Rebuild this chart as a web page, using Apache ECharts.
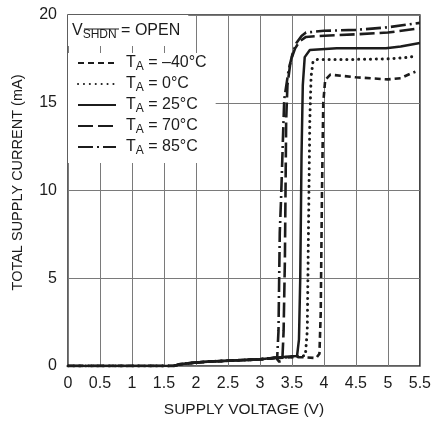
<!DOCTYPE html>
<html>
<head>
<meta charset="utf-8">
<script src="https://cdn.jsdelivr.net/npm/echarts@6/dist/echarts.min.js"></script>
<style>html,body{margin:0;padding:0;background:#fff}#c{width:434px;height:423px}</style>
</head>
<body>
<div id="c"></div>
<script>
// ---- data ----
const xTicks = [0,0.5,1,1.5,2,2.5,3,3.5,4,4.5,5,5.5];
const yTicks = [0,5,10,15,20];
const seriesNames = ['–40°C','0°C','25°C','70°C','85°C'];
const lowSegment = [[0,0],[1.65,0],[1.75,0.1],[2,0.2],[2.2,0.25],[2.5,0.3],[3,0.38],[3.2,0.45]];
const tMinus40 = [[3.5,0.5],[3.7,0.5],[3.88,0.45],[3.93,0.7],[3.95,3],[3.97,10],[3.99,15],[4.02,16.3],[4.1,16.6],[4.5,16.45],[5.0,16.33],[5.2,16.4],[5.38,16.7],[5.43,16.77]];
const t0 = [[3.5,0.52],[3.65,0.55],[3.71,0.6],[3.74,2],[3.76,8],[3.78,14],[3.8,16.5],[3.83,17.35],[3.9,17.47],[4.5,17.47],[5.0,17.5],[5.3,17.58],[5.45,17.66]];
const t25 = [[3.5,0.55],[3.58,0.57],[3.61,1.5],[3.63,5],[3.65,12],[3.67,16],[3.70,17.6],[3.78,18.0],[4.2,18.1],[4.97,18.1],[5.2,18.2],[5.5,18.4]];
const t70 = [[3.25,0.47],[3.3,0.25],[3.35,0.3],[3.37,2],[3.39,6],[3.40,10],[3.41,14],[3.43,16],[3.48,17.4],[3.55,18.1],[3.62,18.5],[3.72,18.75],[3.9,18.8],[4.5,18.9],[5.0,19.0],[5.5,19.24]];
const t85 = [[3.27,0.5],[3.29,2],[3.31,7.6],[3.33,9.5],[3.36,13],[3.38,15.2],[3.45,16.9],[3.51,17.8],[3.57,18.4],[3.65,18.8],[3.72,19.0],[4.0,19.1],[4.5,19.15],[5.0,19.3],[5.5,19.55]];
const curves = [tMinus40, t0, t25, t70, t85];
const dashes = [[6,4],[0.1,5.8],'solid',[15,5],[15,4,2,4]];
const widths = [2.6,3,2.5,2.6,2.6];

const FONT = '"Liberation Sans Narrow","Arial Narrow","Liberation Sans",sans-serif';
const INK = '#1c1c1c';

const chart = echarts.init(document.getElementById('c'), null, {renderer:'canvas'});
const series = seriesNames.map((n,i)=>({
  name: n,
  type: 'line',
  data: lowSegment.concat(curves[i]),
  symbol: 'none',
  smooth: false,
  lineStyle: {color: INK, width: widths[i], type: dashes[i], cap: i===1 ? 'round' : 'butt', join:'round'},
  itemStyle: {color: INK},
  z: 3
}));

chart.setOption({
  animation: false,
  backgroundColor: '#fff',
  grid: {left: 68, top: 15, right: 13, bottom: 57, show: true, borderColor: '#2a2a2a', borderWidth: 1.5, containLabel: false},
  title: {
    text: '{v|V}{s|SHDN}{v| = OPEN}',
    left: 68, top: 15,
    padding: [6, 8, 5, 4],
    backgroundColor: '#fff',
    textStyle: {
      fontWeight: 'normal',
      rich: {
        v: {fontFamily: FONT, fontSize: 16, fontWeight: 'normal', color: INK, lineHeight: 20},
        s: {fontFamily: FONT, fontSize: 12, fontWeight: 'normal', color: INK, padding: [8,0,0,0], lineHeight: 14}
      }
    }
  },
  legend: {
    data: seriesNames,
    orient: 'vertical',
    left: 68, top: 53,
    padding: [0, 9, 6, 9],
    backgroundColor: '#fff',
    itemWidth: 38, itemHeight: 14, itemGap: 1,
    itemStyle: {opacity: 0, borderWidth: 0},
    formatter: n => '{t|T}{s|A}{t| = ' + n + '}',
    textStyle: {
      padding: [0,0,0,5],
      rich: {
        t: {fontFamily: FONT, fontSize: 16, color: INK, lineHeight: 20},
        s: {fontFamily: FONT, fontSize: 12, color: INK, padding: [8,0,0,0], lineHeight: 14}
      }
    }
  },
  xAxis: {
    type: 'value', min: 0, max: 5.5, interval: 0.5,
    name: 'SUPPLY VOLTAGE (V)', nameLocation: 'middle', nameGap: 36,
    nameTextStyle: {fontFamily: FONT, fontSize: 15.5, color: INK},
    axisLine: {show: false}, axisTick: {show: false},
    axisLabel: {fontFamily: FONT, fontSize: 16, color: INK, margin: 10,
      formatter: v => xTicks.includes(v) ? String(v) : ''},
    splitLine: {show: true, lineStyle: {color: '#7a7a7a', width: 1}}
  },
  yAxis: {
    type: 'value', min: 0, max: 20, interval: 5,
    name: 'TOTAL SUPPLY CURRENT (mA)', nameLocation: 'middle', nameGap: 43,
    nameTextStyle: {fontFamily: FONT, fontSize: 14.5, color: INK, padding: [0,0,0,16]},
    axisLine: {show: false}, axisTick: {show: false},
    axisLabel: {fontFamily: FONT, fontSize: 16, color: INK, margin: 11,
      formatter: v => yTicks.includes(v) ? String(v) : ''},
    splitLine: {show: true, lineStyle: {color: '#7a7a7a', width: 1}}
  },
  series: series
});

// overline on SHDN
chart.setOption({graphic: [{type:'line', z: 100, shape:{x1:84, y1:29, x2:119, y2:29}, style:{stroke: INK, lineWidth: 1.2}}]});
</script>
</body>
</html>
